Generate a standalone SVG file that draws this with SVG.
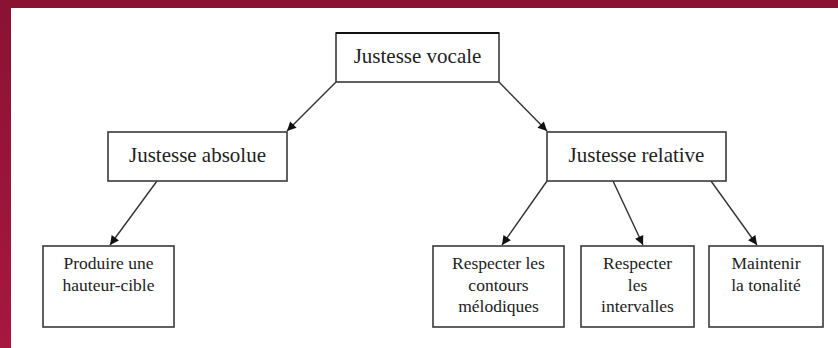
<svg xmlns="http://www.w3.org/2000/svg" width="838" height="348" viewBox="0 0 838 348">
<style>
.box{fill:#fff;stroke:#3a3a3a;stroke-width:1.6}
.t{font-family:"Liberation Serif","Times New Roman",serif;fill:#222;text-anchor:middle}
.big{font-size:21px}
.sm{font-size:17.5px}
.c{stroke:#333;stroke-width:1.4;fill:none;marker-end:url(#ah)}
</style>
<defs>
<marker id="ah" viewBox="0 0 10 10" refX="10" refY="5" markerWidth="11" markerHeight="9" markerUnits="userSpaceOnUse" orient="auto">
<path d="M0,0 L10,5 L0,10 Z" fill="#111"/>
</marker>
<linearGradient id="lg" x1="0" y1="0" x2="0" y2="1">
<stop offset="0" stop-color="#8a1233"/>
<stop offset="1" stop-color="#a8173f"/>
</linearGradient>
</defs>
<rect width="838" height="348" fill="#fff"/>
<rect x="0" y="0" width="838" height="8" fill="#8a1233"/>
<rect x="0" y="0" width="11" height="348" fill="url(#lg)"/>
<g id="connectors">
<line class="c" x1="336" y1="82" x2="287" y2="131"/>
<line class="c" x1="499" y1="82" x2="547" y2="131"/>
<line class="c" x1="157" y1="181" x2="110" y2="245"/>
<line class="c" x1="547" y1="181" x2="502" y2="245"/>
<line class="c" x1="613" y1="181" x2="643" y2="245"/>
<line class="c" x1="711" y1="181" x2="757" y2="245"/>
</g>
<g id="n-vocale">
<rect class="box" x="336" y="33" width="163" height="49"/>
<line x1="336" y1="33" x2="499" y2="33" stroke="#111" stroke-width="2.2"/>
<text class="t big" x="417.5" y="63">Justesse vocale</text>
</g>
<g id="n-absolue">
<rect class="box" x="108" y="132" width="179" height="49"/>
<text class="t big" x="197.5" y="162">Justesse absolue</text>
</g>
<g id="n-relative">
<rect class="box" x="547" y="132" width="179" height="49"/>
<text class="t big" x="636.5" y="162">Justesse relative</text>
</g>
<g id="n-produire">
<rect class="box" x="43" y="246" width="131" height="81"/>
<text class="t sm" x="108.5" y="269">Produire une</text>
<text class="t sm" x="108.5" y="291">hauteur-cible</text>
</g>
<g id="n-contours">
<rect class="box" x="433" y="246" width="131" height="81"/>
<text class="t sm" x="498.5" y="269">Respecter les</text>
<text class="t sm" x="498.5" y="290.5">contours</text>
<text class="t sm" x="498.5" y="312">mélodiques</text>
</g>
<g id="n-intervalles">
<rect class="box" x="581" y="246" width="113" height="81"/>
<text class="t sm" x="637.5" y="269">Respecter</text>
<text class="t sm" x="637.5" y="290.5">les</text>
<text class="t sm" x="637.5" y="312">intervalles</text>
</g>
<g id="n-tonalite">
<rect class="box" x="709" y="246" width="114" height="81"/>
<text class="t sm" x="766" y="269">Maintenir</text>
<text class="t sm" x="766" y="290.5">la tonalité</text>
</g>
</svg>
